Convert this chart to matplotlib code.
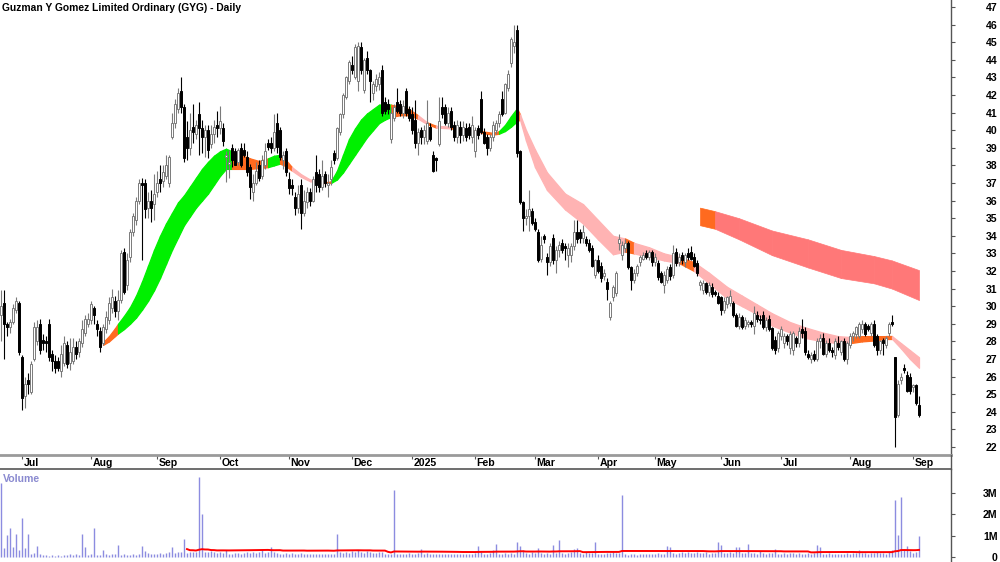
import numpy as np
import pandas as pd
import matplotlib
matplotlib.use('Agg')
import matplotlib.pyplot as plt
from matplotlib.lines import Line2D
import matplotlib.transforms as mtransforms

plt.rcParams['font.family'] = ['Liberation Sans', 'DejaVu Sans']

TITLE = "Guzman Y Gomez Limited Ordinary (GYG) - Daily"
START = "2024-06-20"
HOLIDAYS = ["2024-12-25", "2024-12-26", "2025-01-01", "2025-01-27",
            "2025-04-18", "2025-04-21", "2025-04-25", "2025-06-09"]

opens = [
    29.5, 30.2, 29.0, 28.8, 29.1, 29.8, 30.2, 27.1, 24.9, 25.8,
    25.1, 27.0, 28.0, 29.0, 28.1, 28.0, 29.0, 27.3, 26.9, 26.9,
    26.3, 26.8, 27.8, 26.8, 26.9, 27.7, 27.4, 27.9, 28.5, 29.0,
    29.2, 29.9, 29.0, 28.6, 27.9, 28.7, 29.2, 29.9, 30.3, 29.7,
    30.35, 33.1, 31.2, 32.8, 34.2, 34.9, 36.0, 37.0, 37.0, 35.6,
    36.0, 35.8, 36.5, 37.2, 37.1, 37.4, 37.0, 39.6, 40.4, 41.2,
    42.2, 41.3, 39.6, 39.0, 40.2, 39.8, 40.9, 40.1, 39.6, 40.0,
    39.2, 39.8, 40.3, 40.1, 40.1, 38.5, 38.1, 39.0, 38.8, 38.2,
    39.0, 38.9, 38.5, 37.9, 36.5, 37.0, 38.0, 37.4, 38.0, 39.3,
    39.3, 39.0, 40.4, 40.0, 38.3, 38.8, 37.2, 36.9, 36.2, 35.6,
    36.9, 35.3, 35.9, 36.5, 36.0, 37.6, 37.5, 36.8, 37.5, 36.9,
    37.2, 38.7, 38.4, 39.9, 40.9, 41.9, 42.8, 43.7, 43.0, 42.8,
    44.7, 42.3, 44.1, 43.4, 42.1, 42.5, 42.6, 43.4, 41.6, 41.5,
    39.5, 40.7, 41.6, 41.5, 41.0, 42.2, 41.2, 40.9, 40.6, 39.3,
    40.0, 39.6, 39.4, 40.2, 38.6, 38.4, 39.2, 41.3, 41.3, 40.4,
    41.1, 40.3, 39.6, 40.2, 39.7, 40.1, 40.2, 39.6, 38.8, 40.1,
    41.8, 39.9, 39.6, 39.0, 39.6, 40.0, 40.4, 41.8, 41.0, 42.4,
    43.8, 44.8, 45.7, 38.8, 35.9, 35.0, 35.1, 35.4, 34.8, 34.2,
    32.7, 34.0, 32.8, 32.5, 33.9, 32.6, 33.2, 33.6, 33.4, 32.9,
    32.9, 33.4, 34.2, 34.2, 33.9, 33.8, 33.6, 33.3, 31.8, 32.6,
    32.3, 31.7, 31.4, 29.4, 30.5, 30.75, 33.6, 32.9, 33.3, 33.6,
    32.2, 31.5, 31.9, 32.5, 32.7, 33.0, 32.8, 33.1, 32.5, 32.45,
    31.9, 31.2, 31.5, 32.2, 31.8, 33.1, 32.5, 32.9, 32.5, 33.0,
    33.1, 32.8, 32.45, 31.2, 30.9, 31.3, 30.8, 31.1, 30.8, 30.6,
    30.5, 29.8, 30.1, 30.2, 30.2, 29.5, 28.9, 29.4, 28.9, 29.0,
    29.1, 28.9, 29.5, 29.3, 29.5, 28.8, 29.3, 28.75, 28.1, 27.6,
    28.3, 27.9, 28.3, 27.6, 27.5, 28.2, 27.9, 28.7, 28.6, 27.3,
    27.0, 27.3, 27.0, 28.0, 28.2, 27.3, 27.9, 27.5, 27.2, 27.9,
    27.4, 28.0, 27.0, 27.8, 28.3, 28.4, 28.3, 28.7, 29.0, 28.9,
    28.5, 29.0, 28.3, 27.5, 28.1, 27.8, 28.45, 29.1, 27.1, 23.8,
    25.8, 26.5, 26.1, 26.0, 25.4, 25.5, 24.4,
]
highs = [
    30.9, 30.9, 29.1, 29.3, 30.1, 30.5, 30.3, 27.2, 26.0, 26.2,
    26.9, 29.1, 29.2, 29.3, 28.4, 28.3, 29.3, 27.5, 27.2, 27.1,
    27.8, 28.3, 28.0, 28.2, 28.2, 28.0, 28.2, 29.2, 29.5, 29.6,
    30.3, 30.0, 29.2, 28.8, 29.0, 29.7, 30.5, 31.0, 30.6, 30.9,
    33.2, 33.3, 33.0, 34.4, 35.3, 36.2, 37.2, 37.3, 37.2, 36.5,
    36.6, 37.5, 37.7, 38.0, 38.0, 38.6, 38.6, 41.0, 41.8, 42.4,
    43.0, 41.5, 40.5, 41.0, 41.5, 40.6, 41.6, 40.6, 40.3, 40.3,
    40.3, 40.6, 41.1, 41.4, 40.4, 38.8, 38.9, 39.2, 39.0, 39.0,
    39.3, 39.3, 38.8, 38.1, 37.5, 38.2, 38.3, 38.6, 39.3, 39.5,
    39.6, 40.9, 41.0, 40.2, 38.8, 39.0, 37.6, 37.2, 36.5, 36.9,
    37.2, 36.6, 36.8, 36.7, 37.4, 38.6, 37.8, 38.3, 37.7, 37.5,
    38.3, 38.9, 40.2, 41.0, 42.1, 43.1, 44.0, 44.2, 44.9, 45.0,
    45.0, 44.1, 44.5, 43.5, 42.8, 43.2, 43.3, 43.7, 41.9, 41.8,
    41.3, 41.5, 42.4, 41.7, 41.7, 42.4, 41.4, 41.3, 41.7, 40.1,
    40.2, 40.3, 41.7, 40.4, 38.8, 38.5, 41.9, 41.9, 41.5, 41.3,
    41.3, 40.5, 40.6, 40.5, 40.5, 40.4, 40.4, 40.8, 40.2, 40.3,
    42.2, 40.1, 39.8, 39.8, 40.5, 40.6, 41.1, 42.2, 42.7, 43.4,
    45.3, 46.0, 46.0, 38.9, 36.0, 35.5, 36.6, 35.6, 35.0, 34.4,
    34.0, 34.1, 33.0, 33.6, 34.1, 33.4, 33.7, 33.8, 33.6, 33.6,
    33.6, 34.9, 34.9, 34.4, 34.6, 34.0, 33.8, 33.5, 32.7, 32.9,
    32.5, 32.1, 31.6, 30.3, 31.2, 32.0, 34.1, 33.7, 33.8, 33.7,
    32.3, 32.1, 32.4, 32.9, 33.1, 33.2, 33.2, 33.2, 33.0, 32.6,
    32.0, 32.0, 32.3, 32.4, 33.5, 33.3, 33.0, 33.1, 33.0, 33.3,
    33.4, 33.0, 32.6, 31.5, 31.5, 31.4, 31.4, 31.3, 30.9, 30.8,
    30.6, 30.5, 30.6, 30.9, 30.3, 29.6, 29.6, 29.5, 29.4, 29.2,
    29.2, 30.0, 29.7, 29.5, 29.7, 29.4, 29.5, 28.8, 28.3, 28.6,
    28.9, 28.5, 28.4, 28.6, 28.6, 28.3, 28.8, 29.3, 28.8, 27.5,
    27.4, 27.5, 28.2, 28.4, 28.5, 28.1, 28.2, 27.7, 28.2, 28.3,
    28.1, 28.2, 28.0, 28.5, 28.6, 28.9, 29.1, 29.2, 29.1, 29.0,
    29.1, 29.2, 28.4, 28.1, 28.2, 28.3, 29.1, 29.5, 27.1, 25.8,
    26.2, 26.7, 26.3, 26.2, 25.6, 25.6, 24.9,
]
lows = [
    28.0, 27.0, 28.3, 28.5, 29.0, 29.6, 27.2, 24.1, 24.2, 25.0,
    25.0, 26.9, 27.8, 27.3, 27.5, 27.4, 26.9, 26.3, 26.2, 26.3,
    26.0, 26.6, 26.5, 26.4, 26.7, 27.0, 27.1, 27.7, 28.3, 28.8,
    29.0, 29.0, 28.3, 27.4, 27.8, 28.5, 29.0, 29.6, 29.4, 29.2,
    30.2, 30.7, 30.9, 32.5, 34.0, 34.6, 35.8, 32.6, 35.0, 35.0,
    34.8, 34.9, 36.2, 36.5, 36.8, 37.2, 36.8, 39.5, 40.1, 41.0,
    41.0, 38.2, 38.3, 38.6, 39.3, 39.5, 38.6, 38.7, 38.5, 38.4,
    39.0, 39.3, 39.6, 39.8, 39.1, 37.05, 37.3, 37.9, 38.0, 38.0,
    37.9, 38.5, 37.4, 36.1, 36.0, 36.9, 37.1, 37.2, 37.8, 38.9,
    38.7, 38.8, 38.7, 38.3, 37.8, 37.4, 36.4, 36.3, 35.2, 35.3,
    34.4, 35.1, 35.6, 35.7, 35.9, 36.5, 36.5, 36.6, 36.8, 36.2,
    36.9, 38.1, 38.3, 39.7, 40.7, 41.8, 42.6, 43.2, 42.9, 42.2,
    43.2, 42.1, 43.2, 41.6, 41.7, 42.2, 42.3, 40.8, 40.9, 40.9,
    39.3, 40.5, 41.0, 40.8, 40.7, 40.8, 40.5, 39.8, 39.0, 38.6,
    39.2, 39.2, 39.2, 39.4, 37.6, 37.7, 39.1, 40.7, 40.3, 40.2,
    40.0, 39.4, 39.3, 39.3, 39.4, 39.4, 39.5, 39.3, 38.5, 39.5,
    39.8, 39.2, 38.6, 38.8, 39.4, 39.8, 40.2, 40.8, 40.9, 42.2,
    43.6, 44.4, 38.5, 35.8, 34.3, 34.6, 34.3, 34.6, 34.3, 32.5,
    32.5, 33.6, 31.8, 32.3, 32.4, 31.9, 32.8, 33.0, 32.6, 32.2,
    32.5, 33.2, 33.6, 33.6, 33.6, 33.4, 33.1, 32.2, 31.6, 31.9,
    31.4, 31.5, 30.35, 29.2, 30.3, 30.6, 33.2, 32.6, 33.1, 32.1,
    30.9, 31.3, 31.7, 32.3, 32.6, 32.7, 32.6, 32.3, 32.3, 31.5,
    31.3, 30.75, 31.3, 31.5, 31.6, 32.3, 32.3, 32.4, 32.2, 32.6,
    32.6, 32.2, 31.7, 30.9, 30.7, 30.7, 30.6, 30.5, 30.6, 30.1,
    29.5, 29.6, 29.9, 30.0, 29.4, 28.8, 28.7, 28.7, 28.7, 28.8,
    28.8, 28.4, 29.1, 29.0, 28.7, 28.6, 28.6, 27.5, 27.3, 27.4,
    28.1, 27.6, 27.8, 27.3, 27.2, 27.7, 27.7, 28.2, 27.2, 27.0,
    26.8, 26.9, 26.9, 27.6, 27.2, 27.1, 27.4, 27.1, 27.0, 27.5,
    27.2, 26.9, 26.7, 27.6, 28.0, 28.2, 28.2, 28.5, 28.3, 28.6,
    28.3, 27.7, 27.2, 27.3, 27.2, 27.6, 28.3, 28.9, 22.0, 23.7,
    25.6, 26.2, 25.1, 25.0, 25.1, 24.4, 23.7,
]
closes = [
    30.0, 29.0, 28.8, 29.1, 29.9, 30.3, 27.4, 24.8, 25.6, 25.6,
    26.7, 28.8, 28.8, 27.5, 27.9, 27.9, 27.1, 26.9, 26.5, 26.5,
    27.3, 27.9, 26.7, 27.4, 27.7, 27.3, 28.0, 28.7, 29.3, 29.3,
    30.1, 29.5, 28.7, 27.7, 28.8, 29.4, 30.2, 30.5, 29.7, 30.35,
    33.0, 30.8, 32.6, 34.2, 35.1, 36.0, 37.0, 36.9, 35.5, 36.0,
    35.6, 36.4, 37.0, 37.0, 37.6, 38.0, 38.5, 40.4, 41.5, 42.1,
    41.3, 38.4, 39.0, 40.0, 39.9, 40.3, 40.1, 39.6, 40.0, 38.9,
    39.8, 40.2, 40.1, 40.5, 39.4, 38.6, 38.2, 38.3, 38.0, 38.9,
    38.0, 38.6, 37.6, 36.8, 37.0, 37.7, 37.3, 38.3, 38.8, 39.05,
    39.0, 39.9, 39.05, 38.5, 38.6, 37.6, 36.7, 36.7, 35.6, 36.4,
    35.3, 36.0, 36.5, 36.0, 37.2, 36.9, 36.8, 37.4, 37.0, 37.0,
    37.9, 38.3, 40.1, 40.9, 42.0, 43.0, 43.9, 43.4, 44.7, 44.8,
    43.4, 44.0, 43.4, 42.8, 42.6, 42.9, 43.0, 41.0, 41.1, 41.2,
    41.0, 41.3, 41.1, 41.0, 41.4, 41.0, 40.7, 40.0, 39.3, 39.9,
    39.6, 40.0, 40.4, 39.5, 37.7, 38.3, 40.5, 40.9, 40.4, 41.0,
    40.2, 39.6, 40.3, 39.7, 40.2, 39.6, 39.7, 40.3, 40.0, 39.7,
    39.9, 39.3, 39.0, 39.6, 40.3, 40.4, 40.9, 40.9, 42.6, 43.2,
    45.2, 45.0, 38.7, 35.9, 35.0, 35.1, 35.5, 34.7, 34.4, 32.6,
    33.5, 33.8, 32.5, 33.4, 32.6, 33.2, 33.5, 33.2, 33.3, 33.3,
    33.4, 34.2, 33.8, 33.9, 34.2, 33.6, 33.2, 32.3, 32.6, 32.0,
    31.6, 31.9, 31.0, 30.2, 31.1, 31.9, 33.8, 33.5, 33.6, 32.2,
    31.5, 31.9, 32.3, 32.8, 32.9, 32.8, 33.1, 32.5, 32.8, 31.65,
    31.4, 31.8, 32.1, 31.7, 33.0, 32.45, 32.8, 32.6, 32.9, 32.8,
    32.7, 32.3, 31.9, 31.4, 31.3, 30.8, 31.2, 30.7, 30.7, 30.2,
    29.8, 30.3, 30.5, 30.6, 29.5, 28.9, 29.4, 28.8, 29.2, 29.1,
    29.0, 29.6, 29.3, 29.2, 28.8, 29.2, 28.7, 27.6, 27.5, 28.5,
    28.7, 28.3, 28.0, 28.4, 28.5, 27.9, 28.6, 28.5, 27.4, 27.1,
    27.2, 27.0, 28.0, 28.2, 27.3, 27.9, 27.5, 27.4, 28.0, 27.7,
    28.0, 27.0, 27.9, 28.3, 28.5, 28.8, 29.0, 29.0, 28.4, 28.7,
    29.0, 27.8, 27.5, 28.0, 27.9, 28.2, 29.0, 29.0, 23.7, 25.6,
    26.0, 26.4, 25.2, 25.2, 25.5, 24.5, 23.8,
]
volume_m = [
    3.47, 0.42, 1.03, 1.35, 0.47, 1.08, 0.33, 1.83, 0.42, 1.08,
    0.14, 0.19, 0.52, 0.12, 0.08, 0.10, 0.07, 0.08, 0.06, 0.09,
    0.07, 0.10, 0.08, 0.12, 0.10, 0.14, 0.08, 1.08, 0.47, 0.10,
    0.12, 1.35, 0.10, 0.08, 0.33, 0.12, 0.10, 0.16, 0.14, 0.56,
    0.10, 0.12, 0.08, 0.10, 0.14, 0.09, 0.12, 0.50, 0.27, 0.18,
    0.14, 0.12, 0.15, 0.18, 0.16, 0.20, 0.22, 0.47, 0.20, 0.22,
    0.23, 0.84, 0.20, 0.22, 0.25, 0.24, 3.75, 2.00, 0.25, 0.22,
    0.28, 0.22, 0.20, 0.24, 0.18, 0.33, 0.15, 0.14, 0.17, 0.18,
    0.16, 0.20, 0.22, 0.19, 0.22, 0.20, 0.22, 0.33, 0.20, 0.25,
    0.47, 0.22, 0.18, 0.16, 0.15, 0.20, 0.14, 0.18, 0.15, 0.13,
    0.18, 0.15, 0.14, 0.16, 0.13, 0.14, 0.15, 0.13, 0.16, 0.14,
    0.15, 0.16, 1.08, 0.22, 0.20, 0.25, 0.18, 0.28, 0.22, 0.33,
    0.25, 0.18, 0.26, 0.22, 0.20, 0.18, 0.24, 0.22, 0.14, 0.12,
    0.16, 3.15, 0.14, 0.12, 0.16, 0.15, 0.18, 0.12, 0.16, 0.20,
    0.38, 0.15, 0.18, 0.14, 0.16, 0.13, 0.14, 0.16, 0.12, 0.15,
    0.14, 0.15, 0.13, 0.16, 0.14, 0.15, 0.16, 0.14, 0.18, 0.50,
    0.22, 0.16, 0.15, 0.20, 0.33, 0.61, 0.16, 0.14, 0.18, 0.15,
    0.20, 0.16, 0.70, 0.50, 0.33, 0.20, 0.16, 0.24, 0.18, 0.42,
    0.18, 0.16, 0.20, 0.15, 0.56, 0.20, 0.80, 0.18, 0.16, 0.20,
    0.24, 0.38, 0.42, 0.18, 0.16, 0.25, 0.20, 0.18, 0.70, 0.16,
    0.14, 0.15, 0.20, 0.18, 0.25, 0.20, 0.18, 2.90, 0.12, 0.10,
    0.14, 0.12, 0.10, 0.12, 0.14, 0.12, 0.15, 0.16, 0.13, 0.18,
    0.14, 0.16, 0.52, 0.45, 0.20, 0.16, 0.20, 0.24, 0.18, 0.22,
    0.20, 0.18, 0.22, 0.20, 0.18, 0.22, 0.16, 0.18, 0.20, 0.70,
    0.56, 0.20, 0.18, 0.22, 0.18, 0.47, 0.47, 0.20, 0.18, 0.61,
    0.20, 0.18, 0.16, 0.30, 0.18, 0.16, 0.20, 0.18, 0.38, 0.16,
    0.14, 0.18, 0.16, 0.20, 0.18, 0.16, 0.20, 0.14, 0.16, 0.18,
    0.16, 0.20, 0.56, 0.47, 0.16, 0.14, 0.18, 0.16, 0.15, 0.14,
    0.16, 0.14, 0.18, 0.16, 0.20, 0.18, 0.33, 0.20, 0.18, 0.16,
    0.18, 0.20, 0.22, 0.18, 0.20, 0.16, 0.28, 0.32, 2.68, 1.03,
    2.82, 0.36, 0.52, 0.30, 0.20, 0.24, 0.98,
]

# Trend ribbon (upper / lower edge) read at sample bars, with segment colour code
rib_bar = [34, 36, 38, 39, 41, 43, 45, 47, 49, 51, 53, 55, 57, 59, 61, 63, 65, 67, 69, 71,
           73, 75, 77, 80, 83, 86, 89, 91, 93, 95, 97, 100, 103, 106, 109, 110, 112, 114, 116, 118,
           120, 122, 124, 126, 128, 130, 133, 136, 139, 142, 145, 150, 155, 160, 164, 166, 168, 170, 172, 173,
           175, 178, 182, 188, 194, 199, 204, 208, 211, 216, 221, 226, 231, 236, 242, 247, 252, 257, 263, 268,
           274, 279, 283, 287, 291, 295, 297, 300, 303, 306]
rib_top = [27.95, 28.3, 28.75, 29.0, 29.45, 29.95, 30.6, 31.4, 32.3, 33.2, 34.0, 34.7, 35.3, 35.9, 36.3, 36.8, 37.3, 37.8, 38.2, 38.55,
           38.8, 38.95, 38.8, 38.6, 38.4, 38.25, 38.4, 38.55, 38.6, 38.3, 37.9, 37.5, 37.2, 37.1, 37.05, 37.1, 37.7, 38.6, 39.5, 40.1,
           40.6, 40.95, 41.2, 41.45, 41.5, 41.45, 41.35, 41.2, 40.85, 40.45, 40.25, 40.2, 40.05, 39.95, 39.85, 39.95, 40.3, 40.8, 41.25, 40.9,
           40.0, 38.9, 37.6, 36.4, 35.8, 34.9, 34.0, 33.85, 33.6, 33.35, 33.0, 32.8, 32.5, 31.9, 31.1, 30.6, 30.1, 29.6, 29.1, 28.8,
           28.5, 28.3, 28.25, 28.3, 28.3, 28.3, 28.3, 27.9, 27.5, 27.1]
rib_bot = [27.8, 28.0, 28.3, 28.45, 28.7, 29.0, 29.35, 29.8, 30.3, 30.9, 31.6, 32.4, 33.2, 33.9, 34.6, 35.1, 35.6, 36.0, 36.4, 36.9,
           37.4, 37.8, 37.8, 37.8, 37.8, 37.85, 37.9, 38.0, 38.1, 37.95, 37.7, 37.35, 37.1, 37.0, 37.0, 37.0, 37.2, 37.6, 38.1, 38.6,
           39.1, 39.6, 40.0, 40.4, 40.6, 40.75, 40.85, 40.85, 40.65, 40.35, 40.15, 40.1, 39.95, 39.85, 39.75, 39.8, 39.95, 40.2, 40.5, 40.6,
           39.4, 37.9, 36.6, 35.5, 34.7, 33.8, 32.95, 33.1, 33.0, 32.8, 32.6, 32.45, 32.0, 31.3, 30.45, 30.0, 29.55, 28.9, 28.5, 28.2,
           28.0, 27.9, 27.9, 28.0, 28.05, 28.15, 28.15, 27.6, 27.0, 26.5]
rib_state = list("OOOGGGGGGGGGGGGGGGGG" "GGOOOOGGOOPPPOOGGGGG" "GGGGGOOOPOPOPOOGGGOP"
                 "PPPPPPPOPPPOPPPPPPPP" "PPOOOOPPP-")

# Long-term band
band_bar = [233, 238, 246, 257, 269, 280, 291, 297, 306]
band_top = [35.6, 35.4, 35.0, 34.3, 33.8, 33.2, 32.85, 32.6, 32.05]
band_bot = [34.6, 34.4, 33.8, 32.9, 32.2, 31.6, 31.3, 31.0, 30.35]
band_state = list("ORRRRRRR-")

price_ticks = list(range(22, 48))
vol_ticks = [0, 1, 2, 3]
vol_tick_labels = ["0", "1M", "2M", "3M"]

STATE_COL = {'G': '#00f000', 'O': '#ff6a1f', 'P': '#ffb3b3', 'R': '#ff7878'}

# ---------------------------------------------------------------
W, H = 1000, 562
fig = plt.figure(figsize=(W / 100, H / 100), dpi=100)
AX_R = 951 / W
price_bottom = (H - 455) / H
ax = fig.add_axes([0, price_bottom, AX_R, 455 / H])
axv = fig.add_axes([0, 0, AX_R, 93 / H])

n = len(closes)
x = np.arange(n)
hol = pd.to_datetime(HOLIDAYS)
dates = pd.bdate_range(START, periods=n + 20)
dates = dates[~dates.isin(hol)][:n]

o = np.array(opens); h = np.array(highs); l = np.array(lows); c = np.array(closes)

# ribbon
for i in range(len(rib_bar) - 1):
    col = STATE_COL[rib_state[i]]
    xs = rib_bar[i:i + 2]
    ax.fill_between(xs, rib_bot[i:i + 2], rib_top[i:i + 2], color=col, lw=0.9,
                    edgecolor=col, zorder=1)
for i in range(len(band_bar) - 1):
    col = STATE_COL[band_state[i]]
    xs = band_bar[i:i + 2]
    ax.fill_between(xs, band_bot[i:i + 2], band_top[i:i + 2], color=col, lw=0.5,
                    edgecolor=col, zorder=1)

up = c >= o
wick_col = np.where(up, '#7a7a7a', '#000000')
ax.vlines(x, l, h, colors=wick_col, lw=0.8, zorder=2)
body_lo = np.minimum(o, c)
body_h = np.maximum(np.abs(c - o), 0.06)
ax.bar(x[up], body_h[up], bottom=body_lo[up], width=0.7, color='white',
       edgecolor='#7a7a7a', linewidth=0.7, zorder=3)
ax.bar(x[~up], body_h[~up], bottom=body_lo[~up], width=0.7, color='black',
       edgecolor='black', linewidth=0.7, zorder=3)

ax.set_xlim(-1 / 3, (951 - 1) / 3)
ax.set_ylim(47 - (455 - 7) / 17.6, 47 + 7 / 17.6)

for s in ['top', 'left']:
    ax.spines[s].set_visible(False)
ax.spines['bottom'].set_color('#9a9a9a')
ax.spines['bottom'].set_linewidth(2.0)
ax.spines['right'].set_color('#555555')
ax.spines['right'].set_linewidth(1.0)

LBL = 7.6
ax.yaxis.tick_right()
ax.set_yticks(price_ticks)
ax.set_yticklabels([str(t) for t in price_ticks])
ax.tick_params(axis='y', direction='out', length=3, width=0.8, color='#555555',
               pad=30.5, labelsize=LBL)
for lab in ax.get_yticklabels():
    lab.set_ha('right'); lab.set_fontweight('bold')

# month ticks
month_idx = [i for i in range(1, n) if dates[i].month != dates[i - 1].month]
month_lab = ['2025' if dates[i].month == 1 else dates[i].strftime('%b') for i in month_idx]
ax.set_xticks(month_idx)
ax.set_xticklabels([])
ax.tick_params(axis='x', direction='out', length=3, width=0.8, color='#555555')
trans = mtransforms.blended_transform_factory(ax.transData, ax.transAxes)
for i, lab in zip(month_idx, month_lab):
    ax.text(i + 0.55, -7.5 / 455, lab, transform=trans, ha='left', va='center',
            fontsize=LBL, fontweight='bold', clip_on=False)

ax.text(2 / 951, 1 - 8 / 455, TITLE, transform=ax.transAxes, ha='left', va='center',
        fontsize=7.4, fontweight='bold')

# volume
vol = np.array(volume_m)
axv.vlines(x, 0, vol, colors='#8c8ce0', lw=1.0)
vma = pd.Series(vol).rolling(63).mean()
axv.plot(x, vma, color='#ff0000', lw=1.4)
axv.set_xlim(ax.get_xlim())
axv.set_ylim(-5 / 21.3, (557 - 469) / 21.3)
for s in ['left', 'bottom']:
    axv.spines[s].set_visible(False)
axv.spines['top'].set_color('#555555')
axv.spines['top'].set_linewidth(1.2)
axv.spines['right'].set_color('#555555')
axv.spines['right'].set_linewidth(1.0)
axv.set_xticks([])
axv.yaxis.tick_right()
axv.set_yticks(vol_ticks)
axv.set_yticklabels(vol_tick_labels)
axv.tick_params(axis='y', direction='out', length=3, width=0.8, color='#555555',
                pad=30.5, labelsize=LBL)
for lab in axv.get_yticklabels():
    lab.set_ha('right'); lab.set_fontweight('bold')
axv.text(3 / 951, 1 - 10 / 93, 'Volume', transform=axv.transAxes, ha='left', va='center',
         fontsize=LBL, fontweight='bold', color='#8a8ad0')

fig.add_artist(Line2D([AX_R, AX_R], [93 / H, price_bottom], transform=fig.transFigure,
                      color='#555555', lw=1.0))

fig.savefig('out.png', dpi=100)
